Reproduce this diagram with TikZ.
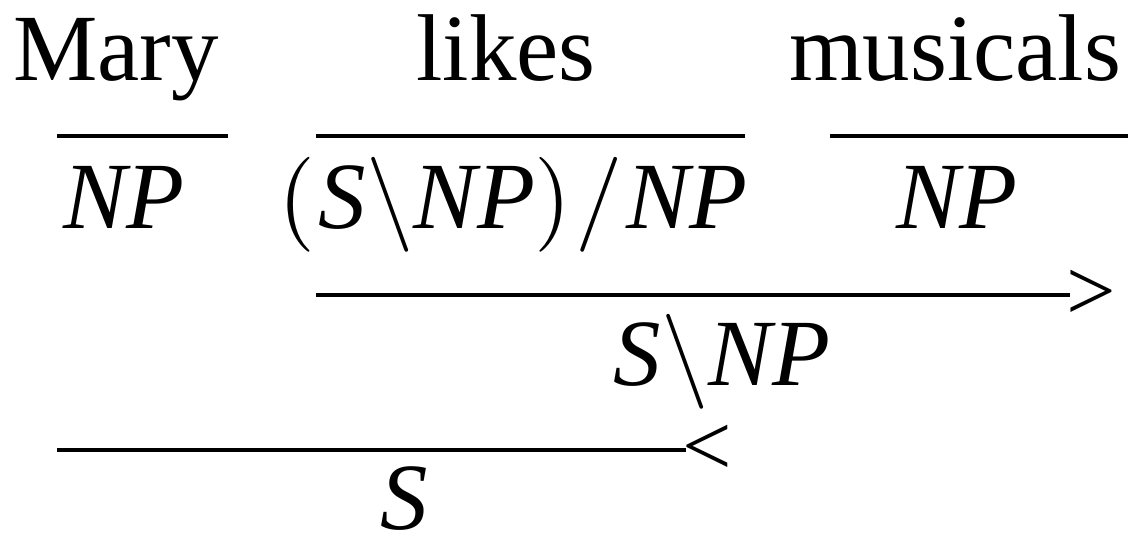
\documentclass[tikz,border=0pt]{standalone}
\usepackage{fontspec}
\setmainfont{Liberation Serif}
\newcommand{\mglyph}[1]{\scalebox{5.4}{\normalsize\(#1\)}}
\newcommand{\mbs}{\mglyph{\backslash}}
\newcommand{\msl}{\mglyph{/}}
\newcommand{\mpl}{\mglyph{(}}
\newcommand{\mpr}{\mglyph{)}}
\begin{document}
\begin{tikzpicture}[x=0.02cm,y=-0.02cm,
  word/.style={inner sep=0pt,anchor=base,font=\fontsize{54}{60}\selectfont},
  cat/.style={inner sep=0pt,anchor=base,font=\fontsize{54}{60}\selectfont\itshape},
  rule/.style={line width=2.8pt},
  sym/.style={inner sep=0pt,anchor=west,font=\fontsize{50}{60}\selectfont}]
\useasboundingbox (0,0) rectangle (1128,538);
% words
\node[word] (mary) at (116,80) {Mary};
\node[word] (likes) at (506,80) {likes};
\node[word] (musicals) at (955,80) {musicals};
% lexical rules
\coordinate (l1a) at (57,136); \coordinate (l1b) at (228,136);
\coordinate (l2a) at (316,136); \coordinate (l2b) at (745,136);
\coordinate (l3a) at (830,136); \coordinate (l3b) at (1128,136);
\draw[rule] (l1a) -- (l1b);
\draw[rule] (l2a) -- (l2b);
\draw[rule] (l3a) -- (l3b);
% categories
\node[cat] (np1) at (124,228) {NP};
\node[cat] (tv) at (513,228) {\mpl\kern2pt S\mbs NP\mpr\kern2pt\msl\kern2pt NP};
\node[cat] (np3) at (957,228) {NP};
% forward application
\coordinate (f1) at (316,295); \coordinate (f2) at (1070,295);
\draw[rule] (f1) -- (f2);
\node[sym] (fa) at (1066,295) {>};
\node[cat] (snp) at (722,385) {S\mbs NP};
% backward application
\coordinate (b1) at (57,450); \coordinate (b2) at (686,450);
\draw[rule] (b1) -- (b2);
\node[sym] (ba) at (682,450) {<};
\node[cat] (s) at (404,529) {S};
\end{tikzpicture}
\end{document}
